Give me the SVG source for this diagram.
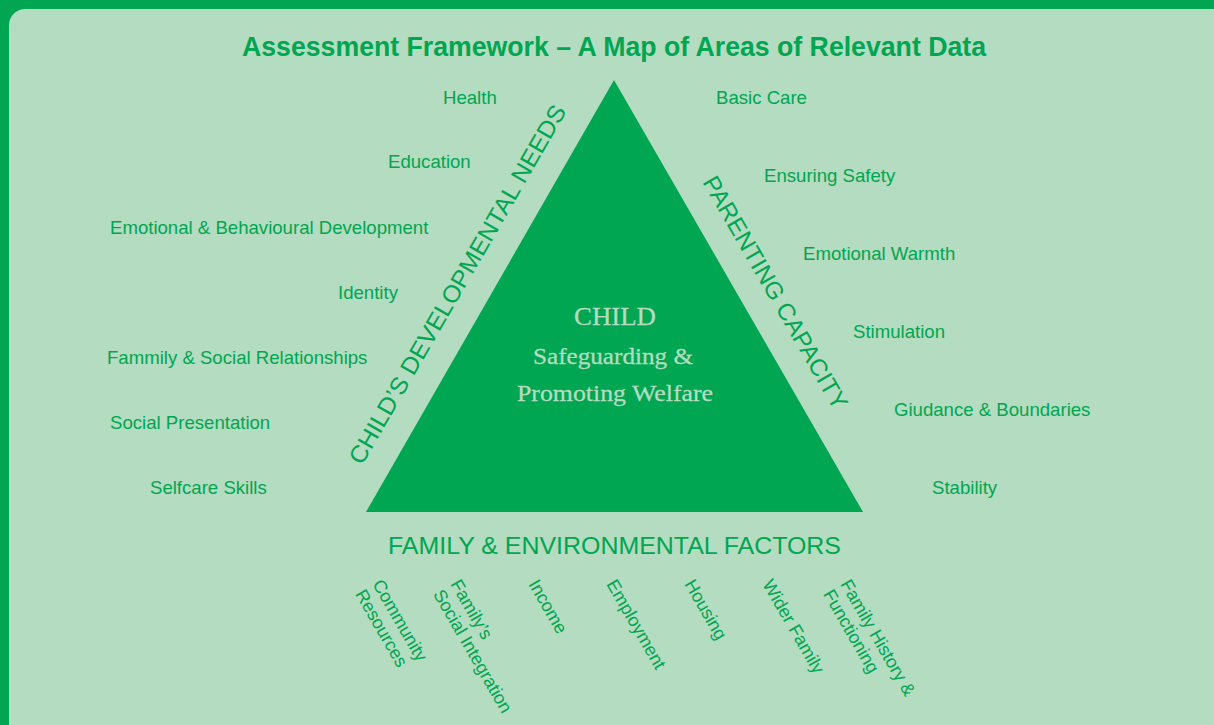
<svg xmlns="http://www.w3.org/2000/svg" width="1214" height="725" viewBox="0 0 1214 725">
<style>
.lbl{font-family:"Liberation Sans",Arial,sans-serif;font-size:18.6px;fill:#00A651}
.blbl{font-family:"Liberation Sans",Arial,sans-serif;font-size:18px;fill:#00A651}
.axis{font-family:"Liberation Sans",Arial,sans-serif;font-size:24px;fill:#00A651}
.title{font-family:"Liberation Sans",Arial,sans-serif;font-size:28px;font-weight:bold;fill:#00A651}
.ctr{font-family:"Liberation Serif","Times New Roman",serif;fill:#B3DCC0;text-anchor:middle;stroke:#B3DCC0;stroke-width:0.3}
</style>
<rect x="0" y="0" width="1214" height="725" fill="#00A651"/>
<rect x="9" y="9" width="1221" height="732" rx="16" ry="16" fill="#B3DCC0"/>
<text class="title" x="614" y="56" text-anchor="middle" textLength="744" lengthAdjust="spacingAndGlyphs">Assessment Framework – A Map of Areas of Relevant Data</text>
<g id="triangle">
<polygon points="614,80 366,512 863,512" fill="#00A651"/>
<text class="ctr" x="615" y="325" font-size="26" textLength="82" lengthAdjust="spacingAndGlyphs">CHILD</text>
<text class="ctr" x="613" y="364" font-size="23" textLength="160" lengthAdjust="spacingAndGlyphs">Safeguarding &amp;</text>
<text class="ctr" x="615" y="401" font-size="23" textLength="196" lengthAdjust="spacingAndGlyphs">Promoting Welfare</text>
</g>
<g id="developmental-needs">
<text class="axis" transform="translate(362,466) rotate(-60)" textLength="410" lengthAdjust="spacingAndGlyphs">CHILD’S DEVELOPMENTAL NEEDS</text>
<text class="lbl" x="443" y="104">Health</text>
<text class="lbl" x="388" y="168">Education</text>
<text class="lbl" x="110" y="234">Emotional &amp; Behavioural Development</text>
<text class="lbl" x="338" y="299">Identity</text>
<text class="lbl" x="107" y="364">Fammily &amp; Social Relationships</text>
<text class="lbl" x="110" y="429">Social Presentation</text>
<text class="lbl" x="150" y="494">Selfcare Skills</text>
</g>
<g id="parenting-capacity">
<text class="axis" transform="translate(702,182) rotate(60)" textLength="265" lengthAdjust="spacingAndGlyphs">PARENTING CAPACITY</text>
<text class="lbl" x="716" y="104">Basic Care</text>
<text class="lbl" x="764" y="182">Ensuring Safety</text>
<text class="lbl" x="803" y="260">Emotional Warmth</text>
<text class="lbl" x="853" y="338">Stimulation</text>
<text class="lbl" x="894" y="416">Giudance &amp; Boundaries</text>
<text class="lbl" x="932" y="494">Stability</text>
</g>
<g id="family-environmental">
<text class="axis" x="388" y="554" textLength="453" lengthAdjust="spacingAndGlyphs">FAMILY &amp; ENVIRONMENTAL FACTORS</text>
<g transform="translate(372,584) rotate(60)"><text class="blbl" x="0" y="0">Community</text><text class="blbl" x="0" y="20">Resources</text></g>
<g transform="translate(450,584) rotate(60)"><text class="blbl" x="0" y="0">Family’s</text><text class="blbl" x="0" y="20">Social Integration</text></g>
<g transform="translate(528,584) rotate(60)"><text class="blbl" x="0" y="0">Income</text></g>
<g transform="translate(606,584) rotate(60)"><text class="blbl" x="0" y="0">Employment</text></g>
<g transform="translate(684,584) rotate(60)"><text class="blbl" x="0" y="0">Housing</text></g>
<g transform="translate(762,584) rotate(60)"><text class="blbl" x="0" y="0">Wider Family</text></g>
<g transform="translate(840,584) rotate(60)"><text class="blbl" x="0" y="0">Family History &amp;</text><text class="blbl" x="0" y="20">Functioning</text></g>
</g>
<g id="connectors"></g>
</svg>
